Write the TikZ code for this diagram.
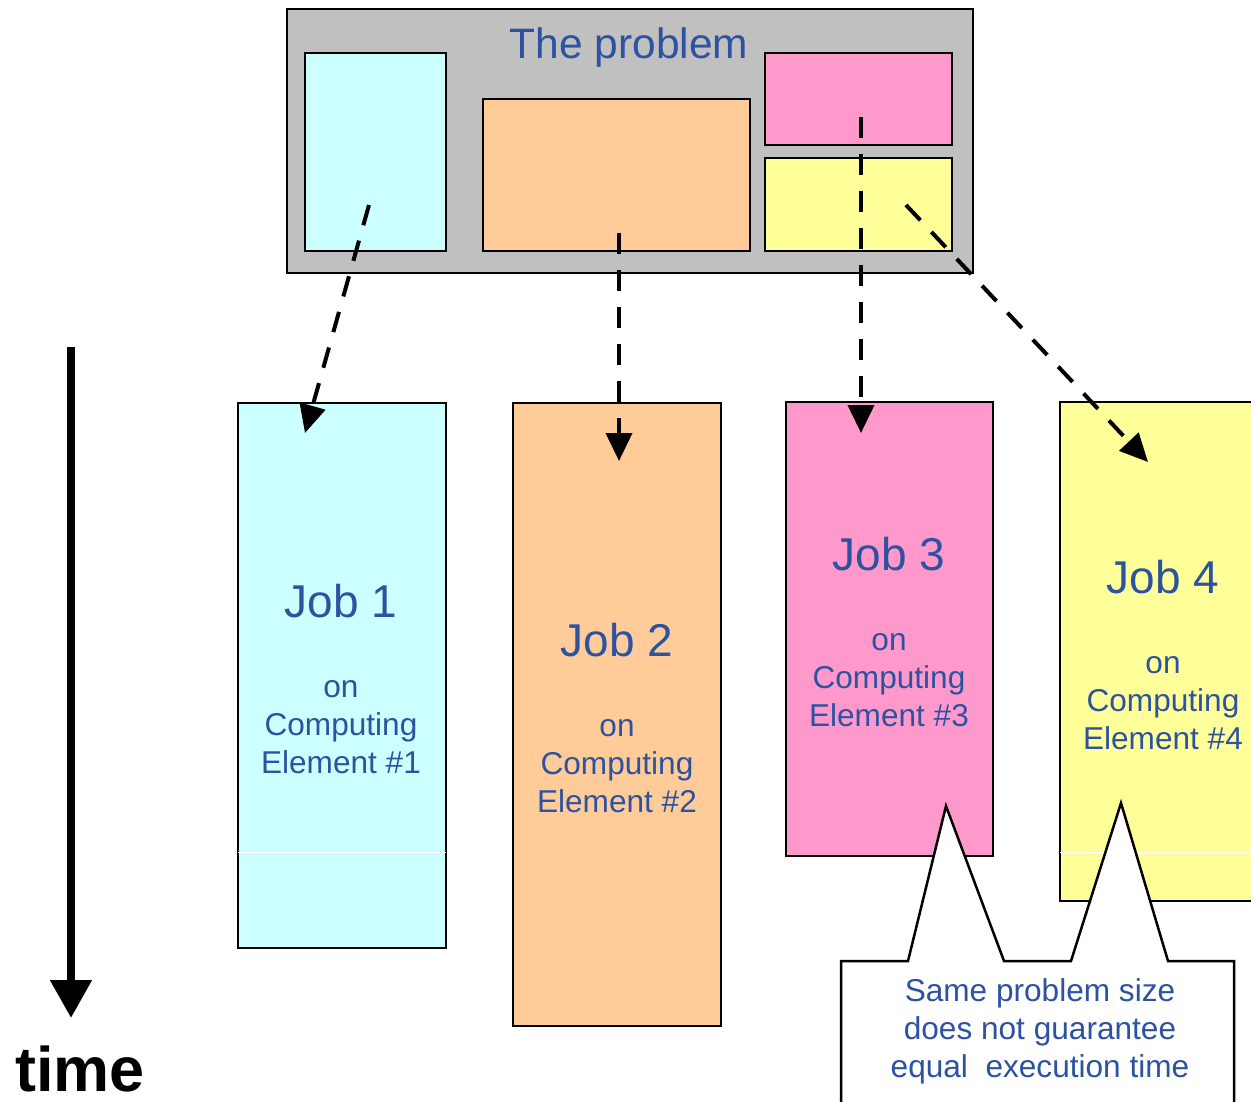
\documentclass[tikz,border=0pt]{standalone}
\usepackage{fontspec}
\setmainfont{Liberation Sans}
\usetikzlibrary{arrows.meta}
\definecolor{txtblue}{RGB}{44,82,160}
\definecolor{cyanfill}{RGB}{204,255,255}
\definecolor{orangefill}{RGB}{255,204,153}
\definecolor{pinkfill}{RGB}{255,153,204}
\definecolor{yellowfill}{RGB}{255,255,153}
\definecolor{greyfill}{RGB}{192,192,192}
\begin{document}
\begin{tikzpicture}[x=1pt,y=-1pt,
  block/.style={draw=black, line width=2.5pt, inner sep=0pt, outer sep=0pt},
  jobtitle/.style={text=txtblue, font=\fontsize{46}{55}\selectfont, inner sep=0pt},
  jobsub/.style={text=txtblue, font=\fontsize{31.6}{38}\selectfont, align=center, inner sep=0pt},
  dasharrow/.style={line width=4pt, dash pattern=on 21pt off 16pt,
    -{Triangle[width=26pt,length=28pt]}},
  seam/.style={white, line width=1pt}]
\useasboundingbox (0,0) rectangle (1251,1102);
\clip (0,0) rectangle (1251,1102);

% the problem, split into four parts
\node[block, fill=greyfill, minimum width=686pt, minimum height=264pt] (prob) at (630,141) {};
\node[text=txtblue, font=\fontsize{42.5}{50}\selectfont, inner sep=0pt] (probt) at (629,48) {The problem};
\node[block, fill=cyanfill, minimum width=141pt, minimum height=198pt] (p1) at (375.5,152) {};
\node[block, fill=orangefill, minimum width=267pt, minimum height=152pt] (p2) at (616.5,175) {};
\node[block, fill=pinkfill, minimum width=187pt, minimum height=92pt] (p3) at (858.5,99) {};
\node[block, fill=yellowfill, minimum width=187pt, minimum height=93pt] (p4) at (858.5,204.5) {};

% jobs on the computing elements
\node[block, fill=cyanfill, minimum width=208pt, minimum height=545pt] (j1) at (342,675.5) {};
\node[block, fill=orangefill, minimum width=208pt, minimum height=623pt] (j2) at (617,714.5) {};
\node[block, fill=pinkfill, minimum width=207pt, minimum height=454pt] (j3) at (889.5,629) {};
\node[block, fill=yellowfill, minimum width=208pt, minimum height=499pt] (j4) at (1164,651.5) {};
\draw[seam] (j1.west |- 0,852) -- (j1.east |- 0,852);
\draw[seam] (j4.west |- 0,852) -- (j4.east |- 0,852);

\node[jobtitle] (j1t) at (341,601) {Job 1};
\node[jobsub] (j1s) at (341,727) {on\\Computing\\Element \#1};
\node[jobtitle] (j2t) at (617,640) {Job 2};
\node[jobsub] (j2s) at (617,766) {on\\Computing\\Element \#2};
\node[jobtitle] (j3t) at (889,554) {Job 3};
\node[jobsub] (j3s) at (889,680) {on\\Computing\\Element \#3};
\node[jobtitle] (j4t) at (1163,577) {Job 4};
\node[jobsub] (j4s) at (1163,703) {on\\Computing\\Element \#4};

% distribution of the parts to the jobs
\coordinate (a1s) at (369,205);  \coordinate (a1e) at (305,433);
\coordinate (a2s) at (619,233);  \coordinate (a2e) at (619,461);
\coordinate (a3s) at (861,117);  \coordinate (a3e) at (861,433);
\coordinate (a4s) at (906,205);  \coordinate (a4e) at (1148,462);
\draw[dasharrow] (a1s) -- (a1e);
\draw[dasharrow] (a2s) -- (a2e);
\draw[dasharrow] (a3s) -- (a3e);
\draw[dasharrow] (a4s) -- (a4e);

% time axis
\coordinate (ts) at (71,347);
\coordinate (te) at (71,1018);
\draw[line width=8pt, -{Triangle[width=40pt,length=38pt]}] (ts) -- (te);
\node[font=\fontsize{63}{70}\selectfont\bfseries, inner sep=0pt] (time) at (80,1069) {time};

% callout pointing at jobs 3 and 4
\draw[line width=2.5pt, fill=white, line join=miter]
  (841,961) -- (908,961) -- (946,806) -- (1004,961) -- (1071,961)
  -- (1121,803) -- (1168,961) -- (1234,961) -- (1234,1110) -- (841,1110) -- cycle;
\node[text=txtblue, font=\fontsize{31.6}{38}\selectfont, align=center, inner sep=0pt] (note) at (1040,1031)
  {Same problem size\\does not guarantee\\equal~~execution time};
\end{tikzpicture}
\end{document}
